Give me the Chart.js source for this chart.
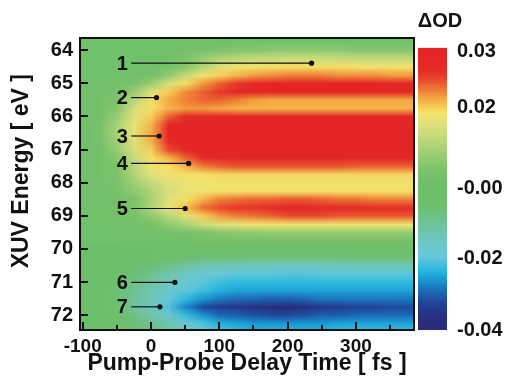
<!DOCTYPE html>
<html>
<head>
<meta charset="utf-8">
<script src="https://cdn.jsdelivr.net/npm/chart.js@4.4.1/dist/chart.umd.min.js"></script>
<style>
  html, body { margin: 0; padding: 0; background: #fff; }
  #wrap { width: 510px; height: 383px; }
</style>
</head>
<body>
<div id="wrap"><canvas id="map"></canvas></div>
<script>
// ── Data ─────────────────────────────────────────────────────────────────────

const delayTimes = [-100, -75, -50, -25, 0, 25, 50, 75, 100, 125, 150, 175, 200, 225, 250, 275, 300, 325, 350, 375];

const xuvEnergies = [63.75, 64.0, 64.25, 64.5, 64.75, 65.0, 65.25, 65.5, 65.75, 66.0, 66.25, 66.5,
  66.75, 67.0, 67.25, 67.5, 67.75, 68.0, 68.25, 68.5, 68.75, 69.0, 69.25, 69.5,
  69.75, 70.0, 70.25, 70.5, 70.75, 71.0, 71.25, 71.5, 71.75, 72.0, 72.25, 72.5];

// ΔOD, one row per energy, one column per delay time
const deltaOD = [
  [.002,.002,.002,.002,.002,.002,.002,.002,.002,.003,.003,.003,.003,.003,.003,.003,.003,.003,.003,.003],
  [.002,.002,.002,.002,.002,.002,.003,.004,.005,.006,.006,.007,.007,.007,.007,.007,.006,.006,.006,.006],
  [.002,.002,.002,.002,.002,.003,.005,.008,.011,.012,.013,.013,.014,.014,.014,.013,.013,.013,.013,.013],
  [.002,.002,.002,.002,.003,.003,.006,.011,.016,.018,.0185,.019,.019,.019,.019,.019,.0185,.0185,.0185,.0185],
  [.002,.002,.002,.003,.003,.007,.013,.018,.020,.021,.022,.0225,.023,.023,.023,.0225,.0225,.0225,.022,.022],
  [.002,.002,.003,.004,.008,.015,.019,.022,.024,.026,.028,.029,.030,.031,.031,.031,.030,.030,.030,.030],
  [.002,.003,.004,.008,.016,.020,.0225,.024,.026,.028,.029,.030,.031,.031,.031,.030,.030,.030,.030,.030],
  [.002,.003,.005,.012,.019,.0215,.023,.024,.024,.023,.022,.0215,.0215,.0215,.0215,.0215,.0215,.0215,.0215,.0215],
  [.002,.003,.006,.015,.019,.021,.022,.022,.0215,.021,.021,.021,.021,.021,.021,.021,.021,.021,.021,.021],
  [.002,.003,.008,.016,.020,.024,.027,.028,.028,.028,.028,.028,.028,.028,.028,.028,.028,.028,.028,.028],
  [.002,.004,.010,.017,.021,.029,.032,.032,.032,.032,.032,.032,.032,.032,.032,.032,.032,.032,.032,.032],
  [.002,.004,.010,.017,.0215,.030,.032,.032,.032,.032,.032,.032,.032,.032,.032,.032,.032,.032,.032,.032],
  [.002,.004,.009,.016,.021,.029,.032,.032,.032,.032,.032,.032,.032,.032,.032,.032,.032,.032,.032,.032],
  [.002,.003,.008,.015,.020,.025,.030,.032,.032,.032,.032,.032,.032,.032,.032,.032,.032,.032,.032,.032],
  [.002,.003,.006,.013,.019,.021,.024,.027,.029,.030,.030,.030,.030,.030,.030,.030,.030,.030,.030,.030],
  [.002,.003,.005,.012,.018,.019,.021,.023,.024,.0245,.0245,.0245,.0245,.0245,.0245,.0245,.024,.024,.024,.024],
  [.002,.003,.005,.011,.016,.018,.019,.019,.0195,.0195,.0195,.0195,.0195,.0195,.0195,.0195,.0195,.0195,.0195,.0195],
  [.002,.003,.004,.009,.013,.016,.0175,.018,.018,.018,.018,.018,.018,.018,.018,.018,.018,.018,.018,.018],
  [.002,.003,.004,.007,.011,.015,.017,.018,.019,.019,.019,.019,.019,.019,.019,.019,.019,.019,.019,.019],
  [.002,.003,.003,.005,.010,.016,.019,.021,.023,.0235,.024,.024,.0245,.0245,.024,.0235,.0235,.023,.023,.023],
  [.002,.002,.003,.005,.011,.017,.0205,.0235,.025,.026,.026,.027,.028,.028,.028,.027,.027,.0265,.0265,.0265],
  [.002,.002,.003,.004,.007,.012,.016,.020,.022,.023,.0235,.024,.025,.025,.025,.0245,.0245,.0245,.0245,.0245],
  [.002,.002,.002,.003,.004,.007,.010,.014,.016,.017,.018,.018,.018,.018,.018,.018,.018,.018,.018,.018],
  [.002,.002,.002,.002,.003,.003,.004,.005,.006,.007,.007,.008,.008,.008,.008,.008,.008,.008,.008,.008],
  [.002,.002,.002,.002,.002,.002,.002,.003,.003,.003,.003,.003,.003,.003,.003,.003,.003,.003,.003,.003],
  [.000,.000,.000,.001,.001,.001,.001,.001,.001,.001,.001,.001,.001,.001,.001,.001,.001,.001,.001,.001],
  [.000,.000,-.001,-.002,-.003,-.004,-.005,-.006,-.006,-.006,-.007,-.007,-.007,-.007,-.007,-.007,-.006,-.006,-.006,-.006],
  [-.001,-.002,-.003,-.004,-.006,-.008,-.011,-.013,-.014,-.014,-.015,-.015,-.015,-.015,-.015,-.014,-.014,-.014,-.014,-.014],
  [-.001,-.002,-.004,-.006,-.009,-.012,-.016,-.018,-.019,-.020,-.020,-.020,-.0205,-.0205,-.020,-.020,-.020,-.020,-.020,-.020],
  [-.001,-.002,-.005,-.008,-.011,-.015,-.018,-.020,-.022,-.023,-.023,-.023,-.023,-.023,-.023,-.023,-.023,-.023,-.023,-.023],
  [-.001,-.003,-.006,-.009,-.013,-.017,-.020,-.022,-.024,-.025,-.025,-.025,-.025,-.025,-.025,-.025,-.025,-.025,-.025,-.025],
  [-.002,-.003,-.006,-.010,-.014,-.019,-.023,-.026,-.028,-.029,-.029,-.030,-.030,-.029,-.028,-.028,-.028,-.028,-.028,-.028],
  [-.002,-.003,-.006,-.010,-.015,-.021,-.027,-.032,-.034,-.035,-.036,-.037,-.038,-.037,-.035,-.034,-.033,-.033,-.032,-.032],
  [-.002,-.003,-.005,-.008,-.012,-.017,-.022,-.026,-.029,-.030,-.031,-.032,-.032,-.031,-.030,-.030,-.029,-.029,-.029,-.029],
  [-.002,-.002,-.004,-.006,-.009,-.013,-.017,-.021,-.024,-.025,-.026,-.026,-.026,-.026,-.026,-.025,-.025,-.025,-.025,-.025],
  [-.001,-.002,-.003,-.005,-.007,-.011,-.015,-.018,-.021,-.022,-.023,-.023,-.023,-.023,-.023,-.022,-.022,-.022,-.022,-.022]
];

// numbered markers: label, delay of the dot, energy of the line
const markerLabels = ['1', '2', '3', '4', '5', '6', '7'];
const markerTimes = [235, 8, 12, 55, 50, 35, 13];
const markerEnergies = [64.39, 65.43, 66.59, 67.42, 68.78, 71.01, 71.75];
const markerStart = -29;
const markerLabelTime = -42;

// colour bar: ticks and where they sit on the bar (0 = bottom, 1 = top)
const cbarValues = [0.03, 0.02, 0, -0.02, -0.04];
const cbarLabels = ['0.03', '0.02', '-0.00', '-0.02', '-0.04'];
const cbarLevels = [0.986, 0.789, 0.5, 0.254, 0];

// colour along the bar
const cmapStops = [
  [0, '#2a2a78'], [0.049, '#28307f'], [0.095, '#20449a'], [0.141, '#1c6cb8'],
  [0.176, '#1796d0'], [0.211, '#2ab8e0'], [0.261, '#67c8d8'], [0.317, '#6ec7c0'],
  [0.377, '#6fc39b'], [0.437, '#6dbf6b'], [0.511, '#6cbf69'], [0.570, '#7cc36b'],
  [0.616, '#98cd72'], [0.687, '#c5d97c'], [0.736, '#e3e27a'], [0.771, '#f4e36a'],
  [0.799, '#f7c04f'], [0.824, '#f3a23f'], [0.852, '#ee7a35'], [0.887, '#e84a2c'],
  [0.923, '#e52a27'], [1, '#e32526']
];

// ── Colour helpers ───────────────────────────────────────────────────────────

const FONT = "'Liberation Sans', Arial, sans-serif";
const INK = '#111';

function hexRgb(h) {
  return [parseInt(h.slice(1,3),16), parseInt(h.slice(3,5),16), parseInt(h.slice(5,7),16)];
}

function levelFor(v) {
  if (v >= cbarValues[0]) {
    const lv = cbarLevels[0] + (v - cbarValues[0]) / (cbarValues[0] - cbarValues[1]) * (cbarLevels[0] - cbarLevels[1]);
    return Math.min(1, lv);
  }
  for (let i = 1; i < cbarValues.length; i++) {
    if (v >= cbarValues[i]) {
      const f = (v - cbarValues[i]) / (cbarValues[i-1] - cbarValues[i]);
      return cbarLevels[i] + f * (cbarLevels[i-1] - cbarLevels[i]);
    }
  }
  return 0;
}

function colourAt(lv) {
  for (let i = 1; i < cmapStops.length; i++) {
    if (lv <= cmapStops[i][0]) {
      const [l0, c0] = cmapStops[i-1], [l1, c1] = cmapStops[i];
      const f = (lv - l0) / (l1 - l0), a = hexRgb(c0), b = hexRgb(c1);
      return a.map((c, k) => Math.round(c + f * (b[k] - c)));
    }
  }
  return hexRgb(cmapStops[cmapStops.length-1][1]);
}

// ── Plugins ──────────────────────────────────────────────────────────────────

const heatmap = {
  id: 'heatmap',
  beforeDatasetsDraw(chart) {
    const {ctx, chartArea: a, scales: {x, y}} = chart;
    const nx = delayTimes.length, ny = xuvEnergies.length;
    const off = document.createElement('canvas');
    off.width = nx; off.height = ny;
    const octx = off.getContext('2d');
    const img = octx.createImageData(nx, ny);
    deltaOD.forEach((row, j) => row.forEach((v, i) => {
      const c = colourAt(levelFor(v)), k = (j * nx + i) * 4;
      img.data[k] = c[0]; img.data[k+1] = c[1]; img.data[k+2] = c[2]; img.data[k+3] = 255;
    }));
    octx.putImageData(img, 0, 0);
    const dt = delayTimes[1] - delayTimes[0], de = xuvEnergies[1] - xuvEnergies[0];
    const x0 = x.getPixelForValue(delayTimes[0] - dt/2), x1 = x.getPixelForValue(delayTimes[nx-1] + dt/2);
    const y0 = y.getPixelForValue(xuvEnergies[0] - de/2), y1 = y.getPixelForValue(xuvEnergies[ny-1] + de/2);
    ctx.save();
    ctx.beginPath(); ctx.rect(a.left, a.top, a.width, a.height); ctx.clip();
    ctx.imageSmoothingEnabled = true;
    ctx.drawImage(off, x0, y0, x1 - x0, y1 - y0);
    ctx.restore();
  },
  afterDatasetsDraw(chart) {
    const {ctx, scales: {x, y}} = chart;
    ctx.save();
    ctx.fillStyle = INK;
    ctx.font = `bold 20px ${FONT}`;
    ctx.textAlign = 'center'; ctx.textBaseline = 'middle';
    markerLabels.forEach((lab, i) => {
      ctx.fillText(lab, x.getPixelForValue(markerLabelTime), y.getPixelForValue(markerEnergies[i]) + 1);
    });
    ctx.restore();
  },
  afterDraw(chart) {
    const {ctx, chartArea: a, scales: {x, y, cb}} = chart;
    ctx.save();
    // colour bar
    const top = cb.getPixelForValue(1), bot = cb.getPixelForValue(0);
    const g = ctx.createLinearGradient(0, bot, 0, top);
    cmapStops.forEach(([lv, c]) => g.addColorStop(lv, c));
    ctx.fillStyle = g;
    ctx.fillRect(cb.left + 4, top, 29, bot - top);
    ctx.fillStyle = INK;
    ctx.font = `bold 20px ${FONT}`;
    ctx.textAlign = 'center'; ctx.textBaseline = 'middle';
    ctx.fillText('ΔOD', cb.left + 26, 21);
    // inward ticks and frame
    ctx.strokeStyle = INK; ctx.lineWidth = 2;
    ctx.beginPath();
    x.ticks.forEach(t => {
      const px = Math.round(x.getPixelForValue(t.value));
      const len = t.value % 100 === 0 ? 8 : 5;
      ctx.moveTo(px, a.bottom); ctx.lineTo(px, a.bottom - len);
    });
    y.ticks.forEach(t => {
      const py = Math.round(y.getPixelForValue(t.value));
      ctx.moveTo(a.left, py); ctx.lineTo(a.left + 8, py);
    });
    ctx.stroke();
    ctx.strokeRect(a.left, a.top, a.width, a.height);
    ctx.restore();
  }
};

// ── Chart ────────────────────────────────────────────────────────────────────

const tickFont = size => ({family: FONT, size, weight: 'bold'});
const clear = 'rgba(0,0,0,0)';

new Chart(document.getElementById('map'), {
  type: 'scatter',
  data: {
    datasets: markerTimes.map((t, i) => ({
      label: markerLabels[i],
      data: [{x: markerStart, y: markerEnergies[i]}, {x: t, y: markerEnergies[i]}],
      showLine: true,
      borderColor: INK,
      borderWidth: 1.2,
      pointRadius: [0, 2.6],
      pointBackgroundColor: INK,
      pointBorderWidth: 0
    }))
  },
  options: {
    responsive: true,
    maintainAspectRatio: false,
    animation: false,
    layout: {padding: {top: 38, left: 0, right: 0, bottom: 0}},
    plugins: {legend: {display: false}, tooltip: {enabled: false}},
    scales: {
      x: {
        type: 'linear', min: -104, max: 385,
        afterFit(s) { s.height = 53; },
        grid: {display: true, drawOnChartArea: false, drawTicks: true, tickLength: 5, tickColor: clear},
        border: {display: false},
        ticks: {
          stepSize: 50, includeBounds: false, autoSkip: false, maxRotation: 0,
          padding: 0, color: INK, font: tickFont(19),
          callback: v => v % 100 === 0 ? String(v) : ''
        },
        title: {display: true, text: 'Pump-Probe Delay Time [ fs ]', color: INK,
          font: tickFont(23), padding: {top: 0, bottom: 6}}
      },
      y: {
        type: 'linear', min: 63.63, max: 72.45, reverse: true,
        afterFit(s) { s.width = 80; },
        grid: {display: true, drawOnChartArea: false, drawTicks: true, tickLength: 7, tickColor: clear},
        border: {display: false},
        ticks: {stepSize: 1, includeBounds: false, autoSkip: false, padding: 0, color: INK, font: tickFont(20)},
        title: {display: true, text: '    XUV Energy [ eV ]', color: INK,
          font: tickFont(23), padding: {top: 8, bottom: 0}}
      },
      cb: {
        type: 'linear', position: 'right', min: 0, max: 1.035,
        afterFit(s) { s.width = 96; },
        afterBuildTicks(s) { s.ticks = cbarLevels.map(v => ({value: v})); },
        grid: {display: true, drawOnChartArea: false, drawTicks: true, tickLength: 43, tickColor: clear},
        border: {display: false},
        ticks: {autoSkip: false, padding: 0, color: INK, font: tickFont(20),
          callback: (v, i) => cbarLabels[i]}
      }
    }
  },
  plugins: [heatmap]
});
</script>
</body>
</html>
